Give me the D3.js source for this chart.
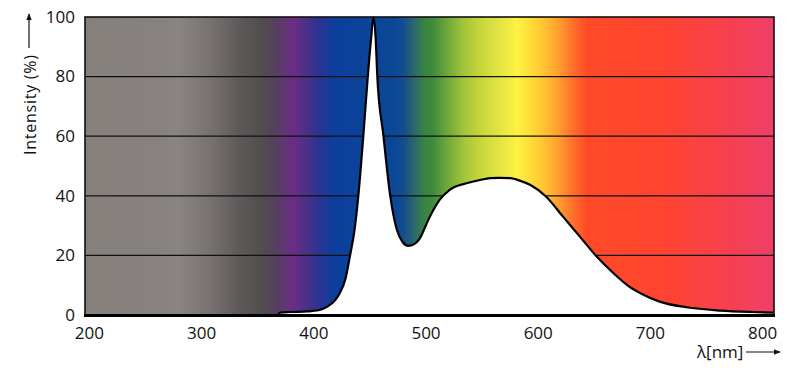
<!DOCTYPE html>
<html>
<head>
<meta charset="utf-8">
<script src="https://cdn.jsdelivr.net/npm/d3@7"></script>
<style>
  body { margin: 0; background: #fff; }
  text { font-family: "Open Sans", sans-serif; fill: #111; }
</style>
</head>
<body>
<svg id="chart"></svg>
<script>
// spectrum (nm, %)
var wavelengths = [369, 371, 380, 395, 405, 413, 420, 424, 429, 433, 437, 440.5, 445, 449, 452, 454, 456, 457.5, 463, 469, 475, 480, 485, 490, 495, 503, 513, 522, 537, 549, 558, 566, 576, 585, 594, 608, 623, 638, 653, 668, 682, 692, 709, 733, 763, 792, 811]
var intensity   = [0, 0.8, 1, 1.2, 1.6, 2.8, 5, 7.3, 12, 19.6, 28, 39.7, 60, 80, 93, 100, 93, 80, 60, 40, 28.5, 24.5, 23.2, 23.7, 25.5, 32, 38.6, 42, 44.2, 45.3, 45.9, 46, 45.9, 45, 43.6, 39.7, 33, 26.3, 19.6, 14, 9.5, 7.3, 4.5, 2.6, 1.5, 1, 0.8]

var xTicks = [200, 300, 400, 500, 600, 700, 800]
var yTicks = [0, 20, 40, 60, 80, 100]
var gridValues = [20, 40, 60, 80]

// background colour band
var stopWavelengths = [197, 265, 280, 300, 310, 335, 355, 372, 382, 395, 405, 420, 475, 482, 491, 500, 507, 520, 534, 549, 564, 582, 602, 616, 629, 644, 712, 772, 811]
var stopColors = ["#86807d", "#87817f", "#8a8582", "#7d7775", "#767070", "#5e5959", "#514d4d", "#5a3a6a", "#6b2d84", "#4a3088", "#2c3391", "#0c3f9c", "#0b4896", "#174f8a", "#2c6a6a", "#3a8442", "#3d8b3d", "#6fa83a", "#a0c43a", "#c6d63a", "#dfe243", "#fef240", "#ffcc33", "#ffa92e", "#ff7a2b", "#ff4a28", "#ff4430", "#f64050", "#ee3f6a"]

var svg = d3.select("#chart")
svg.attr("width", 800).attr("height", 381)

var x = d3.scaleLinear()
      .domain([197, 811])
      .range([85, 774])
var y = d3.scaleLinear()
      .domain([0, 100])
      .range([315, 17])

var spectrum = wavelengths.map((w, i) => ({w: w, v: intensity[i]}))

var defs = svg.append("defs")
var grad = defs.append("linearGradient")
      .attr("id", "band")
      .attr("gradientUnits", "userSpaceOnUse")
      .attr("x1", x(197)).attr("x2", x(811))
      .attr("y1", 0).attr("y2", 0)
grad.selectAll("stop")
      .data(stopWavelengths)
      .enter()
      .append("stop")
      .attr("offset", d => (x(d) - x(197)) / (x(811) - x(197)))
      .attr("stop-color", (d, i) => stopColors[i])

svg.append("rect")
      .attr("x", x(197)).attr("y", y(100))
      .attr("width", x(811) - x(197))
      .attr("height", y(0) - y(100))
      .attr("fill", "url(#band)")

// gridlines
svg.selectAll("line.grid")
      .data(gridValues)
      .enter()
      .append("line")
      .attr("class", "grid")
      .attr("x1", x(197)).attr("x2", x(811))
      .attr("y1", d => y(d)).attr("y2", d => y(d))
      .attr("stroke", "#111")
      .attr("stroke-width", 1.2)

// white area under the curve
var area = d3.area()
      .x(d => x(d.w))
      .y0(y(0))
      .y1(d => y(d.v))
      .curve(d3.curveMonotoneX)
svg.append("path")
      .datum(spectrum)
      .attr("d", area)
      .attr("fill", "#fff")

var line = d3.line()
      .x(d => x(d.w))
      .y(d => y(d.v))
      .curve(d3.curveMonotoneX)
svg.append("path")
      .datum(spectrum)
      .attr("d", line)
      .attr("fill", "none")
      .attr("stroke", "#000")
      .attr("stroke-width", 2.2)

// frame
svg.append("rect")
      .attr("x", x(197)).attr("y", y(100))
      .attr("width", x(811) - x(197))
      .attr("height", y(0) - y(100))
      .attr("fill", "none")
      .attr("stroke", "#111")
      .attr("stroke-width", 1.6)
svg.append("line")
      .attr("x1", x(197) - 1).attr("x2", x(811) + 1)
      .attr("y1", y(0) + 0.5).attr("y2", y(0) + 0.5)
      .attr("stroke", "#000")
      .attr("stroke-width", 3)

// tick labels
svg.selectAll("text.ytick")
      .data(yTicks)
      .enter()
      .append("text")
      .attr("class", "ytick")
      .text(d => d)
      .attr("x", 75)
      .attr("y", d => y(d))
      .attr("dy", "0.34em")
      .attr("text-anchor", "end")
      .style("font-size", "17px")

svg.selectAll("text.xtick")
      .data(xTicks)
      .enter()
      .append("text")
      .attr("class", "xtick")
      .text(d => d)
      .attr("x", d => x(d) + 1)
      .attr("y", 339)
      .attr("text-anchor", "middle")
      .style("font-size", "17px")

// axis titles with arrows
defs.append("marker")
      .attr("id", "arrow")
      .attr("viewBox", "0 0 10 10")
      .attr("refX", 9).attr("refY", 5)
      .attr("markerWidth", 7).attr("markerHeight", 7)
      .attr("markerUnits", "userSpaceOnUse")
      .attr("orient", "auto")
      .append("path")
      .attr("d", "M0,1 L10,5 L0,9 Z")
      .attr("fill", "#111")

svg.append("text")
      .text("Intensity (%)")
      .attr("transform", "translate(36,155) rotate(-90)")
      .attr("textLength", 100)
      .style("font-size", "16px")
svg.append("line")
      .attr("x1", 29).attr("x2", 29)
      .attr("y1", 48).attr("y2", 14)
      .attr("stroke", "#111").attr("stroke-width", 1.2)
      .attr("marker-end", "url(#arrow)")

svg.append("text")
      .text("λ[nm]")
      .attr("x", 697)
      .attr("y", 358)
      .style("font-size", "17px")
svg.append("line")
      .attr("x1", 746).attr("x2", 780)
      .attr("y1", 352).attr("y2", 352)
      .attr("stroke", "#111").attr("stroke-width", 1.2)
      .attr("marker-end", "url(#arrow)")
</script>
</body>
</html>
